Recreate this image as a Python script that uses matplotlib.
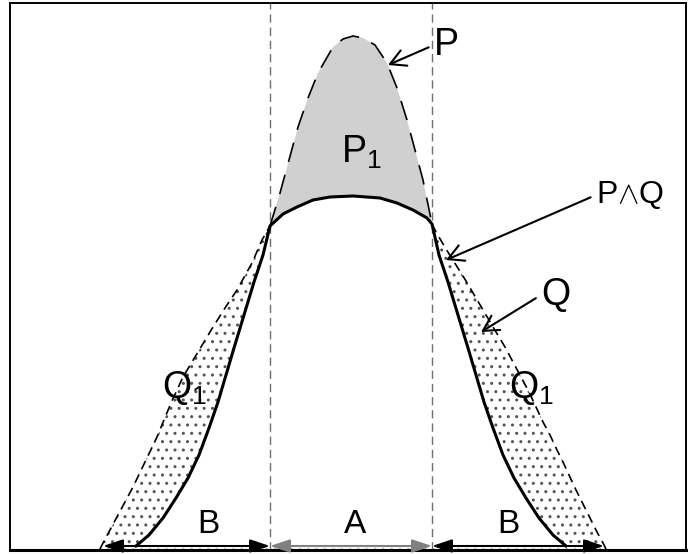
import numpy as np
import matplotlib
matplotlib.use("Agg")
import matplotlib.pyplot as plt

plt.rcParams['font.family'] = ['Liberation Sans', 'DejaVu Sans']
plt.rcParams['mathtext.fontset'] = 'custom'
plt.rcParams['mathtext.rm'] = 'Liberation Sans'
plt.rcParams['hatch.linewidth'] = 1.0

# curve P (narrow, tall) : x position and height above the baseline
p_x = [136, 149, 163, 176, 188, 199, 209, 218, 226, 234, 244, 254, 263, 270,
       280, 289, 298, 308, 318, 333, 343, 353, 363, 375, 387, 397, 407, 415, 423, 432,
       439, 448, 458, 468, 476, 484, 493, 503, 514, 526, 539, 553, 566]
p_h = [3, 14, 31, 51, 71, 94, 121, 147, 174, 201, 234, 267, 294, 323,
       356, 389, 422, 451, 476, 502, 510, 513, 511, 504, 486, 461, 429, 399, 369, 325,
       294, 267, 234, 201, 174, 147, 121, 94, 71, 51, 31, 14, 3]

# curve Q (wide, flat)
q_x = [100, 103, 118, 133, 145, 157, 171, 183, 198, 213, 225, 237, 252, 262, 270,
       283, 297, 313, 330, 353, 380, 397, 413, 427, 432,
       436, 446, 456, 466, 476, 486, 496, 505, 513, 521, 529, 536, 543, 550, 556,
       563, 569, 576, 583, 590, 597, 603, 606]
q_h = [0, 6, 34, 62, 87, 112, 146, 172, 197, 222, 241, 259, 286, 309, 323,
       335, 342, 349, 352, 353, 351, 346, 339, 331, 325,
       317, 300, 284, 268, 251, 234, 217, 202, 187, 172, 157, 142, 127, 114, 101,
       87, 74, 59, 45, 31, 17, 6, 0]

# region A lies between the two crossings, B on either side
a_bounds = [270, 432]
span_edges = [103, 270, 432, 604]
span_labels = ['B', 'A', 'B']
span_label_x = [208, 355, 508]
span_colors = ['black', '#808080', 'black']

p_x, p_h = np.array(p_x), np.array(p_h)
q_x, q_h = np.array(q_x), np.array(q_h)
lo, hi = a_bounds

p_left, p_mid, p_right = p_x <= lo, (p_x >= lo) & (p_x <= hi), p_x >= hi
q_left, q_mid, q_right = q_x <= lo, (q_x >= lo) & (q_x <= hi), q_x >= hi

fig = plt.figure(figsize=(6.88, 5.54), dpi=100)
ax = fig.add_axes([10 / 688, 4 / 554, 676 / 688, 547 / 554])
ax.set_xlim(10, 686)
ax.set_ylim(-1, 546)
ax.set_xticks([])
ax.set_yticks([])
for s in ax.spines.values():
    s.set_linewidth(1.4)
ax.spines['bottom'].set_linewidth(2.2)

# dotted area under Q, then white under P^Q (keeps a dotted strip at the bottom)
ax.fill(np.r_[q_x, q_x[0]], np.r_[q_h, 0], facecolor='white', edgecolor='#555555',
        linewidth=0, hatch='..', zorder=1)
min_x = np.r_[p_x[p_left], q_x[q_mid][1:-1], p_x[p_right]]
min_h = np.r_[p_h[p_left], q_h[q_mid][1:-1], p_h[p_right]]
ax.fill(np.r_[min_x, min_x[-1], min_x[0]], np.r_[min_h, 3, 3], facecolor='white',
        edgecolor='none', zorder=1.5)

# grey part P1 between P and Q inside A
ax.fill(np.r_[p_x[p_mid], q_x[q_mid][::-1]], np.r_[p_h[p_mid], q_h[q_mid][::-1]],
        facecolor='#d0d0d0', edgecolor='none', zorder=1.6)

for xb in a_bounds:
    ax.axvline(xb, color='#707070', lw=1.0, dashes=(6, 3.5), zorder=2)

# P^Q solid, rest dashed
ax.plot(min_x, min_h, color='black', lw=2.2, zorder=3)
ax.plot(p_x[p_mid], p_h[p_mid], color='black', lw=1.2, dashes=(12, 8), zorder=3)
ax.plot(q_x[q_left], q_h[q_left], color='black', lw=1.2, dashes=(5.5, 3.5), zorder=3)
ax.plot(q_x[q_right], q_h[q_right], color='black', lw=1.2, dashes=(5.5, 3.5), zorder=3)

# spans along the bottom
for i in range(3):
    ax.annotate('', xy=(span_edges[i + 1], 3), xytext=(span_edges[i], 3),
                arrowprops=dict(arrowstyle='<|-|>,head_length=0.6,head_width=0.2',
                                color=span_colors[i], lw=1.5, shrinkA=0, shrinkB=0,
                                mutation_scale=20), zorder=4)
    ax.text(span_label_x[i], 16, span_labels[i], fontsize=24, ha='center', va='baseline')

ax.text(341, 386, r'$\mathregular{P_1}$', fontsize=27, ha='left', va='baseline')
ax.text(162, 151, r'$\mathregular{Q_1}$', fontsize=27, ha='left', va='baseline')
ax.text(509, 151, r'$\mathregular{Q_1}$', fontsize=27, ha='left', va='baseline')

arrow = dict(arrowstyle='->,head_length=0.55,head_width=0.3', lw=1.5, color='black',
             relpos=(0, 0.5), shrinkA=2, shrinkB=0, mutation_scale=20)
ax.annotate('P', xy=(388, 484), xytext=(434, 494), fontsize=27, ha='left',
            va='baseline', arrowprops=arrow)
ax.annotate(r'P$\wedge$Q', xy=(446, 289), xytext=(596, 346), fontsize=23, ha='left',
            va='baseline', arrowprops=arrow)
ax.annotate('Q', xy=(481, 217), xytext=(541, 244), fontsize=27, ha='left',
            va='baseline', arrowprops=arrow)

fig.savefig('out.png', dpi=100)
